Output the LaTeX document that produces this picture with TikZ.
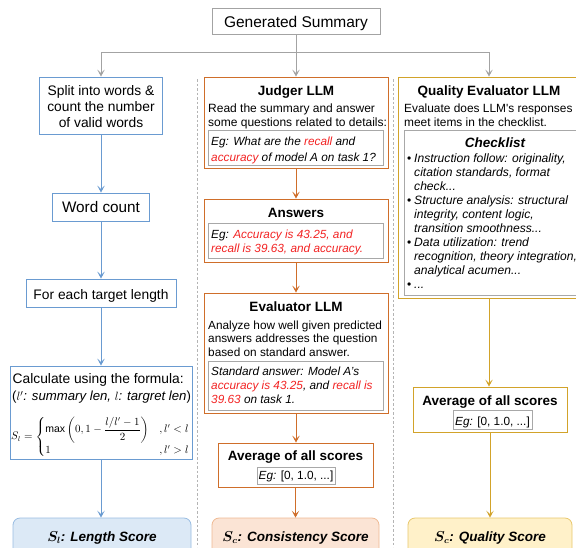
\documentclass[tikz,border=0pt]{standalone}
\usepackage{amsmath}
\usepackage{fontspec}
\setmainfont{Liberation Sans}
\usetikzlibrary{arrows.meta}
\definecolor{cgray}{HTML}{A3A3A3}
\definecolor{cblue}{HTML}{6A9BD1}
\definecolor{corange}{HTML}{CF6E2A}
\definecolor{cgold}{HTML}{D2A32A}
\definecolor{cinner}{HTML}{A8A8A8}
\definecolor{cred}{HTML}{F22222}
\definecolor{fblue}{HTML}{DCE9F6}
\definecolor{fblueb}{HTML}{98BCE2}
\definecolor{forange}{HTML}{FBE4D5}
\definecolor{forangeb}{HTML}{EFB992}
\definecolor{fgold}{HTML}{FFF1C9}
\definecolor{fgoldb}{HTML}{E8C76C}
\definecolor{csep}{HTML}{B4B4B4}
\newcommand{\redtxt}[1]{\textcolor{cred}{#1}}
\tikzset{
  boxg/.style={draw=cgray, line width=0.9pt, inner sep=0pt},
  boxb/.style={draw=cblue, line width=0.9pt, inner sep=0pt},
  boxo/.style={draw=corange, line width=0.9pt, inner sep=0pt},
  boxy/.style={draw=cgold, line width=0.9pt, inner sep=0pt},
  boxi/.style={draw=cinner, line width=0.6pt, inner sep=0pt},
  scoreb/.style={draw=fblueb, fill=fblue, line width=0.8pt, rounded corners=7pt, inner sep=0pt},
  scoreo/.style={draw=forangeb, fill=forange, line width=0.8pt, rounded corners=7pt, inner sep=0pt},
  scorey/.style={draw=fgoldb, fill=fgold, line width=0.8pt, rounded corners=7pt, inner sep=0pt},
  arr/.style={-{Stealth[length=7pt,width=7.5pt,inset=3.5pt]}, line width=1pt},
  tbody/.style={inner sep=0pt, font=\fontsize{11.8}{14}\selectfont, align=left, anchor=base west},
  tinner/.style={inner sep=0pt, font=\fontsize{11.8}{14.5}\selectfont\itshape, align=left, anchor=base west},
  ttitle/.style={inner sep=0pt, font=\fontsize{13.5}{16}\selectfont\bfseries, anchor=base},
  tleft/.style={inner sep=0pt, font=\fontsize{13.8}{16.2}\selectfont, align=center, anchor=base},
  tscore/.style={inner sep=0pt, font=\fontsize{13.5}{16}\selectfont\bfseries\itshape, anchor=base},
  sepline/.style={draw=csep, line width=0.7pt, dash pattern=on 2.5pt off 2pt},
}
\begin{document}
\begin{tikzpicture}[x=1pt,y=-1pt]
\useasboundingbox (0,0) rectangle (576,547);

% separators
\draw[sepline] (197.5,79) -- (197.5,547);
\draw[sepline] (393,79) -- (393,547);

% top
\node[boxg, minimum width=168pt, minimum height=26pt] (gs) at (296,21) {};
\node[inner sep=0pt, font=\fontsize{15.5}{18}\selectfont, anchor=base] (gst) at (296,27) {Generated Summary};

% ---------- left column ----------
\node[boxb, minimum width=123pt, minimum height=57pt] (split) at (101,105.5) {};
\node[tleft] (splitt) at (101,127.4) {Split into words \&\\count the number\\of valid words};
\node[boxb, minimum width=97pt, minimum height=28pt] (wc) at (101,207) {};
\node[inner sep=0pt, font=\fontsize{15.3}{18}\selectfont, anchor=base] (wct) at (101,212) {Word count};
\node[boxb, minimum width=150pt, minimum height=28pt] (fe) at (101,293) {};
\node[tleft] (fet) at (101,299.5) {For each target length};
\node[boxb, minimum width=182pt, minimum height=93pt] (calc) at (101,412.5) {};
\node[inner sep=0pt, font=\fontsize{13.8}{16}\selectfont, anchor=base west] (calct1) at (12.5,383.5) {Calculate using the formula:};
\node[inner sep=0pt, font=\fontsize{13.2}{16}\selectfont, anchor=base west] (calct2) at (12,400.5) {($l'$\textit{: summary len, }$l$\textit{: targret len})};
\node[inner sep=0pt, font=\fontsize{10.5}{12}\selectfont, anchor=west] (formula) at (11,437)
  {$S_l = \begin{cases} \mathrm{max}\left(0, 1 - \dfrac{l/l'-1}{2}\right) & ,l'<l \\[2pt] 1 & ,l'>l \end{cases}$};
\node[scoreb, minimum width=178pt, minimum height=44pt] (ls) at (102,540) {};
\node[tscore] (lst) at (102,541) {$\boldsymbol{S_l}$: Length Score};

% ---------- middle column ----------
\node[boxo, minimum width=184pt, minimum height=91pt] (judge) at (296,122.5) {};
\node[ttitle] (judget) at (296,95) {Judger LLM};
\node[tbody, font=\fontsize{12}{14}\selectfont] (judgeb) at (208,126.5) {Read the summary and answer\\some questions related to details:};
\node[boxi, minimum width=175pt, minimum height=35pt] (judgei) at (295.5,147.5) {};
\node[tinner, font=\fontsize{11.8}{15.5}\selectfont\itshape] (judgeit) at (211,161) {Eg: What are the \redtxt{recall} and\\\redtxt{accuracy} of model A on task 1?};

\node[boxo, minimum width=184pt, minimum height=63pt] (ans) at (296,230.5) {};
\node[ttitle] (anst) at (296,217.5) {Answers};
\node[boxi, minimum width=175pt, minimum height=35pt] (ansi) at (295.5,240.5) {};
\node[tinner, font=\fontsize{11.8}{14}\selectfont\itshape] (ansit) at (211,252.8) {Eg: \redtxt{Accuracy is 43.25, and}\\\redtxt{recall is 39.63, and accuracy.}};

\node[boxo, minimum width=184pt, minimum height=120pt] (eval) at (296,353) {};
\node[ttitle] (evalt) at (296,311) {Evaluator LLM};
\node[tbody, font=\fontsize{11.8}{13.4}\selectfont] (evalb) at (208,356.3) {Analyze how well given predicted\\answers addresses the question\\based on standard answer.};
\node[boxi, minimum width=175pt, minimum height=49pt] (evali) at (295.5,385.5) {};
\node[tinner, font=\fontsize{11.8}{14.2}\selectfont\itshape] (evalit) at (211,403.4) {Standard answer: Model A's\\\redtxt{accuracy is 43.25}, and \redtxt{recall is}\\\redtxt{39.63} on task 1.};

\node[boxo, minimum width=155pt, minimum height=44pt] (avg) at (295.5,465) {};
\node[ttitle] (avgt) at (295.5,460.5) {Average of all scores};
\node[boxi, minimum width=78pt, minimum height=17pt] (avgi) at (296,475.5) {};
\node[inner sep=0pt, font=\fontsize{11.8}{14}\selectfont, anchor=base] (avgit) at (296,479.5) {\textit{Eg:} [0, 1.0, ...]};

\node[scoreo, minimum width=167pt, minimum height=44pt] (cs) at (295.5,540) {};
\node[tscore] (cst) at (295.5,541) {$\boldsymbol{S_c}$: Consistency Score};

% ---------- right column ----------
\node[boxy, minimum width=182pt, minimum height=221pt] (qual) at (489,187.5) {};
\node[ttitle] (qualt) at (489,95) {Quality Evaluator LLM};
\node[tbody, font=\fontsize{11.9}{14}\selectfont] (qualb) at (404,126.5) {Evaluate does LLM\textquotesingle s responses\\meet items in the checklist.};
\node[boxi, minimum width=182pt, minimum height=165pt] (quali) at (495,212.5) {};
\node[tscore] (checkt) at (495,147) {Checklist};
\node[tinner, font=\fontsize{12}{14.1}\selectfont] (b1) at (407,162) {\textbullet};
\node[tinner, font=\fontsize{12.1}{14.1}\selectfont\itshape] (i1) at (414,190.2) {Instruction follow: originality,\\citation standards, format\\check...};
\node[tinner, font=\fontsize{12}{14.1}\selectfont] (b2) at (407,204.3) {\textbullet};
\node[tinner, font=\fontsize{12.1}{14.1}\selectfont\itshape] (i2) at (414,232.5) {Structure analysis: structural\\integrity, content logic,\\transition smoothness...};
\node[tinner, font=\fontsize{12}{14.1}\selectfont] (b3) at (407,246.6) {\textbullet};
\node[tinner, font=\fontsize{12.1}{14.1}\selectfont\itshape] (i3) at (414,274.8) {Data utilization: trend\\recognition, theory integration,\\analytical acumen...};
\node[tinner, font=\fontsize{12}{14.1}\selectfont] (b4) at (407,288.9) {\textbullet};
\node[tinner, font=\fontsize{12.1}{14.1}\selectfont\itshape] (i4) at (414,288.9) {...};

\node[boxy, minimum width=154pt, minimum height=45pt] (qavg) at (490,409.5) {};
\node[ttitle] (qavgt) at (490,405.5) {Average of all scores};
\node[boxi, minimum width=79pt, minimum height=19pt] (qavgi) at (492.5,419.5) {};
\node[inner sep=0pt, font=\fontsize{11.8}{14}\selectfont, anchor=base] (qavgit) at (492.5,425) {\textit{Eg:} [0, 1.0, ...]};

\node[scorey, minimum width=164pt, minimum height=44pt] (qs) at (490,540) {};
\node[tscore] (qst) at (490,541) {$\boldsymbol{S_c}$: Quality Score};

% ---------- connectors ----------
\coordinate (hub) at (296,52);
\draw[arr, cgray] (gs.south) -- (judge.north);
\draw[arr, cgray] (hub) -| (split.north);
\draw[arr, cgray] (hub) -| (qual.north);

\draw[arr, cblue] (split.south) -- (wc.north);
\draw[arr, cblue] (wc.south) -- (fe.north);
\draw[arr, cblue] (fe.south) -- (calc.north);
\draw[arr, cblue] (calc.south) -- (calc.south |- ls.north);

\draw[arr, corange] (judge.south) -- (ans.north);
\draw[arr, corange] (ans.south) -- (eval.north);
\draw[arr, corange] (eval.south) -- (eval.south |- avg.north);
\draw[arr, corange] (avg.south) -- (avg.south |- cs.north);

\draw[arr, cgold] (qual.south) -- (qual.south |- qavg.north);
\draw[arr, cgold] (qavg.south) -- (qavg.south |- qs.north);
\end{tikzpicture}
\end{document}
